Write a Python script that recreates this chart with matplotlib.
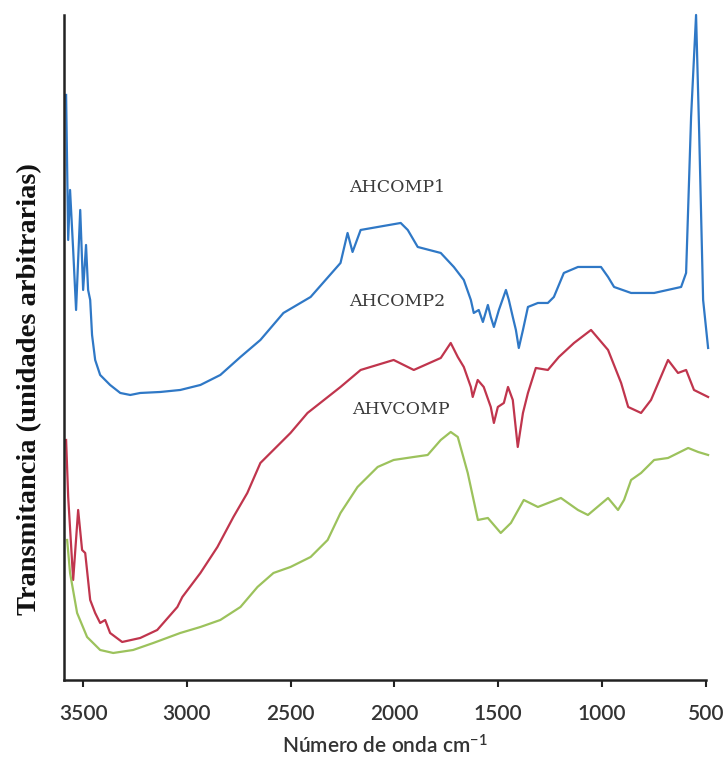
import numpy as np
import matplotlib.pyplot as plt

plt.rcParams['mathtext.default'] = 'regular'

# wavenumber (cm-1) and transmittance (arbitrary units) for each sample
ahcomp1_x = [3582, 3572, 3563, 3548, 3534, 3514, 3500, 3486, 3476, 3466, 3457, 3442, 3418,
             3370, 3321, 3273, 3225, 3128, 3032, 2935, 2839, 2742, 2646, 2535, 2404, 2260,
             2226, 2202, 2163, 1970, 1936, 1888, 1777, 1714, 1666, 1632, 1618, 1594, 1574,
             1550, 1536, 1521, 1497, 1463, 1449, 1430, 1415, 1401, 1381, 1357, 1309, 1261,
             1232, 1184, 1116, 1005, 971, 942, 860, 749, 619, 595, 571, 547, 532, 513, 489]
ahcomp1_y = [585, 440, 490, 430, 370, 470, 390, 435, 390, 380, 345, 320, 305,
             295, 287, 285, 287, 288, 290, 295, 305, 323, 340, 367, 383, 417,
             447, 428, 450, 457, 450, 433, 427, 413, 400, 380, 367, 370, 358,
             375, 363, 353, 370, 390, 380, 363, 350, 332, 350, 373, 377, 377,
             383, 407, 413, 413, 403, 393, 387, 387, 393, 407, 563, 665, 547, 380, 332]

ahcomp2_x = [3582, 3572, 3548, 3524, 3505, 3490, 3466, 3442, 3418, 3394, 3370, 3312, 3225,
             3143, 3046, 3022, 2935, 2853, 2776, 2709, 2646, 2501, 2419, 2260, 2163, 2004,
             1907, 1777, 1729, 1695, 1666, 1632, 1623, 1599, 1570, 1536, 1521, 1502, 1473,
             1453, 1430, 1406, 1381, 1357, 1319, 1261, 1208, 1135, 1053, 971, 908, 874, 812,
             764, 682, 634, 595, 557, 489]
ahcomp2_y = [240, 183, 100, 170, 130, 127, 80, 67, 57, 60, 47, 38, 42,
             50, 73, 83, 107, 133, 163, 187, 217, 247, 267, 293, 310, 320,
             310, 322, 337, 323, 313, 293, 283, 300, 293, 273, 257, 273, 277,
             293, 280, 233, 267, 287, 312, 310, 323, 337, 350, 330, 297, 273, 267,
             280, 320, 307, 310, 290, 283]

ahvcomp_x = [3577, 3563, 3529, 3481, 3418, 3355, 3259, 3162, 3032, 2935, 2839, 2742, 2660,
             2583, 2501, 2404, 2322, 2260, 2178, 2081, 2004, 1907, 1840, 1777, 1729, 1695,
             1647, 1598, 1550, 1488, 1439, 1377, 1309, 1198, 1116, 1068, 971, 923, 894, 860,
             812, 749, 682, 585, 537, 489]
ahvcomp_y = [140, 107, 67, 43, 30, 27, 30, 37, 47, 53, 60, 73, 93,
             107, 113, 123, 140, 167, 193, 213, 220, 223, 225, 240, 248, 243,
             207, 160, 162, 147, 157, 180, 173, 182, 170, 165, 182, 170, 180, 200,
             207, 220, 222, 232, 228, 225]

xticks = [3500, 3000, 2500, 2000, 1500, 1000, 500]

fig = plt.figure(figsize=(7.26, 7.63), dpi=100)
ax = fig.add_axes([0.0882, 0.1088, 0.884, 0.8716])

ax.plot(ahcomp1_x, ahcomp1_y, color='#2f78c6', lw=1.6, clip_on=False)
ax.plot(ahcomp2_x, ahcomp2_y, color='#c0354d', lw=1.6, clip_on=False)
ax.plot(ahvcomp_x, ahvcomp_y, color='#9cc25c', lw=1.6, clip_on=False)

tag_font = dict(family=['DejaVu Serif'], fontsize=12.5, color='#3a3a3a',
                ha='center', va='center')
ax.text(1985, 492, 'AHCOMP1', **tag_font)
ax.text(1985, 378, 'AHCOMP2', **tag_font)
ax.text(1970, 270, 'AHVCOMP', **tag_font)

ax.set_xlim(3592, 500)
ax.set_ylim(0, 665)
ax.set_xticks(xticks)
ax.set_xticklabels([str(t) for t in xticks], family=['Lato', 'DejaVu Sans'], fontsize=15,
                   fontweight='semibold', color='#333333')
ax.set_yticks([])
ax.tick_params(axis='x', direction='out', length=5, width=1.5, color='#222222', pad=12)

for side in ['top', 'right']:
    ax.spines[side].set_visible(False)
for side in ['left', 'bottom']:
    ax.spines[side].set_linewidth(1.8)
    ax.spines[side].set_color('#222222')

ax.set_xlabel('Número de onda cm$^{-1}$', family=['Lato', 'DejaVu Sans'], fontsize=15,
              fontweight='semibold', color='#333333', labelpad=8)
ax.set_ylabel('Transmitancia (unidades arbitrarias)', family=['Liberation Serif', 'DejaVu Serif'],
              fontweight='bold', fontsize=20.5, color='#111111')
ax.yaxis.set_label_coords(-0.034, 0.4376)

fig.savefig('out.png', dpi=100)
